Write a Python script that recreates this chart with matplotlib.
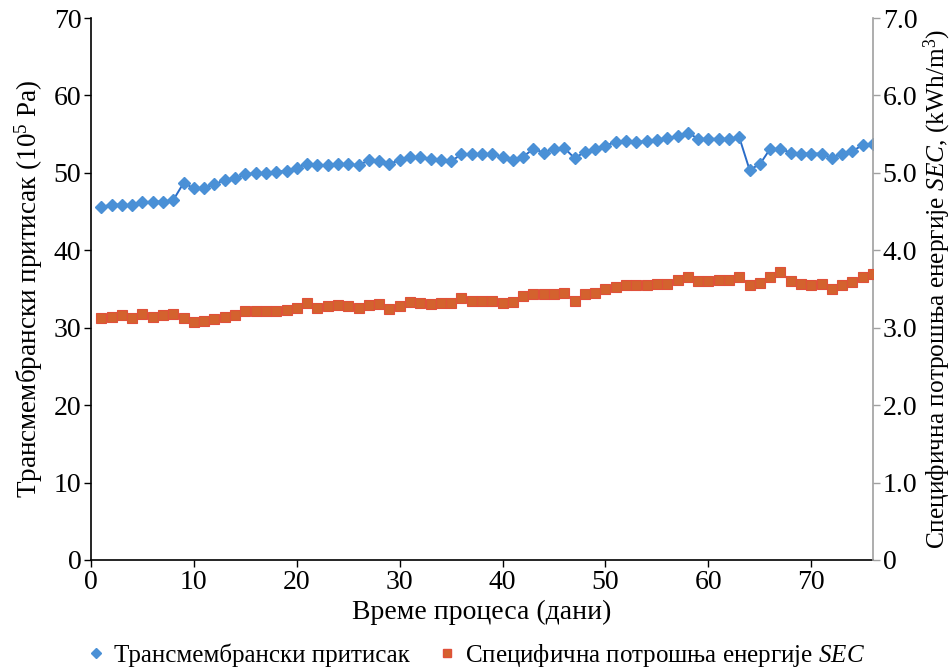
import numpy as np
import matplotlib
matplotlib.use('Agg')
import matplotlib.pyplot as plt
from matplotlib.lines import Line2D

plt.rcParams['font.family'] = ['Liberation Serif', 'DejaVu Serif']
plt.rcParams['mathtext.fontset'] = 'custom'
plt.rcParams['mathtext.rm'] = 'Liberation Serif'
plt.rcParams['mathtext.it'] = 'Liberation Serif:italic'

## days of the process
days = np.arange(1, 77)

## transmembrane pressure (10^5 Pa)
tmp = [45.6, 45.9, 45.9, 45.8, 46.2, 46.3, 46.3, 46.5, 48.7, 48.0,
       48.1, 48.5, 49.1, 49.3, 49.8, 50.0, 50.0, 50.1, 50.3, 50.6,
       51.2, 51.0, 51.0, 51.2, 51.1, 51.0, 51.6, 51.5, 51.2, 51.6,
       52.0, 52.0, 51.8, 51.7, 51.5, 52.4, 52.4, 52.4, 52.4, 52.1,
       51.6, 52.1, 53.1, 52.6, 53.1, 53.2, 51.9, 52.7, 53.1, 53.5,
       54.0, 54.1, 54.0, 54.1, 54.3, 54.5, 54.7, 55.2, 54.4, 54.4,
       54.4, 54.4, 54.6, 50.4, 51.1, 53.1, 53.1, 52.6, 52.5, 52.5,
       52.5, 51.9, 52.5, 52.8, 53.6, 53.7]

## specific energy consumption SEC (kWh/m3)
sec = [3.13, 3.14, 3.16, 3.13, 3.18, 3.14, 3.16, 3.18, 3.13, 3.07,
       3.09, 3.11, 3.14, 3.17, 3.22, 3.21, 3.21, 3.22, 3.23, 3.25,
       3.32, 3.26, 3.28, 3.29, 3.28, 3.26, 3.29, 3.31, 3.24, 3.28,
       3.33, 3.32, 3.31, 3.32, 3.32, 3.39, 3.34, 3.35, 3.35, 3.32,
       3.33, 3.41, 3.43, 3.43, 3.44, 3.45, 3.35, 3.43, 3.45, 3.50,
       3.52, 3.55, 3.55, 3.55, 3.56, 3.57, 3.61, 3.65, 3.60, 3.60,
       3.61, 3.61, 3.66, 3.55, 3.58, 3.65, 3.72, 3.60, 3.56, 3.55,
       3.57, 3.50, 3.55, 3.59, 3.65, 3.70]

fig = plt.figure(figsize=(9.51, 6.72), dpi=100)
ax = fig.add_axes([0.0957, 0.1667, 0.8223, 0.8065])
ax2 = ax.twinx()

blue_line = '#2a6cc8'
blue_mk = '#4a90d6'
red_line = '#d8322a'
red_mk = '#d4622e'

ax.plot(days, tmp, color=blue_line, lw=1.4, marker='D', ms=6,
        mfc=blue_mk, mec=blue_mk, zorder=3)
ax2.plot(days, sec, color=red_line, lw=1.4, marker='s', ms=6.5,
         mfc=red_mk, mec='#e0503a', mew=0.8, zorder=3)

ax.set_xlim(0, 76)
ax.set_ylim(0, 70)
ax2.set_ylim(0, 7)
ax.set_xticks(np.arange(0, 71, 10))
ax.set_yticks(np.arange(0, 71, 10))
ax2.set_yticks(np.arange(0, 7.1, 1))
ax2.set_yticklabels(['0'] + ['%.1f' % v for v in np.arange(1, 7.1, 1)])

for a in (ax, ax2):
    a.spines['top'].set_visible(False)
ax2.spines['left'].set_visible(False)
ax2.spines['bottom'].set_visible(False)
ax.spines['right'].set_visible(False)
ax2.spines['right'].set_color('#a0a0a0')
ax2.spines['right'].set_linewidth(1.2)
ax.spines['left'].set_linewidth(1.2)
ax.spines['bottom'].set_linewidth(1.2)

ax.tick_params(axis='both', labelsize=20, direction='out', length=5, width=1, pad=2)
ax2.tick_params(axis='y', labelsize=20, direction='out', length=5, width=1,
                color='#a0a0a0', pad=2)

ax.set_xlabel('Време процеса (дани)', fontsize=20, labelpad=4)
ax.set_ylabel('Трансмембрански притисак (10$^5$ Pa)', fontsize=19.5, labelpad=6)
ax2.set_ylabel('Специфична потрошња енергије $SEC$, (kWh/m$^3$)', fontsize=18.3,
               labelpad=3)

handles = [Line2D([], [], ls='none', marker='D', ms=5, mfc=blue_mk, mec=blue_mk),
           Line2D([], [], ls='none', marker='s', ms=6, mfc=red_mk, mec='#e0503a')]
fig.legend(handles, ['Трансмембрански притисак', 'Специфична потрошња енергије $SEC$'],
           loc='center', bbox_to_anchor=(0.5, 0.025), ncol=2, frameon=False,
           fontsize=18, handlelength=0.8, handletextpad=0.3, columnspacing=1.1)

fig.savefig('out.png', dpi=100)
